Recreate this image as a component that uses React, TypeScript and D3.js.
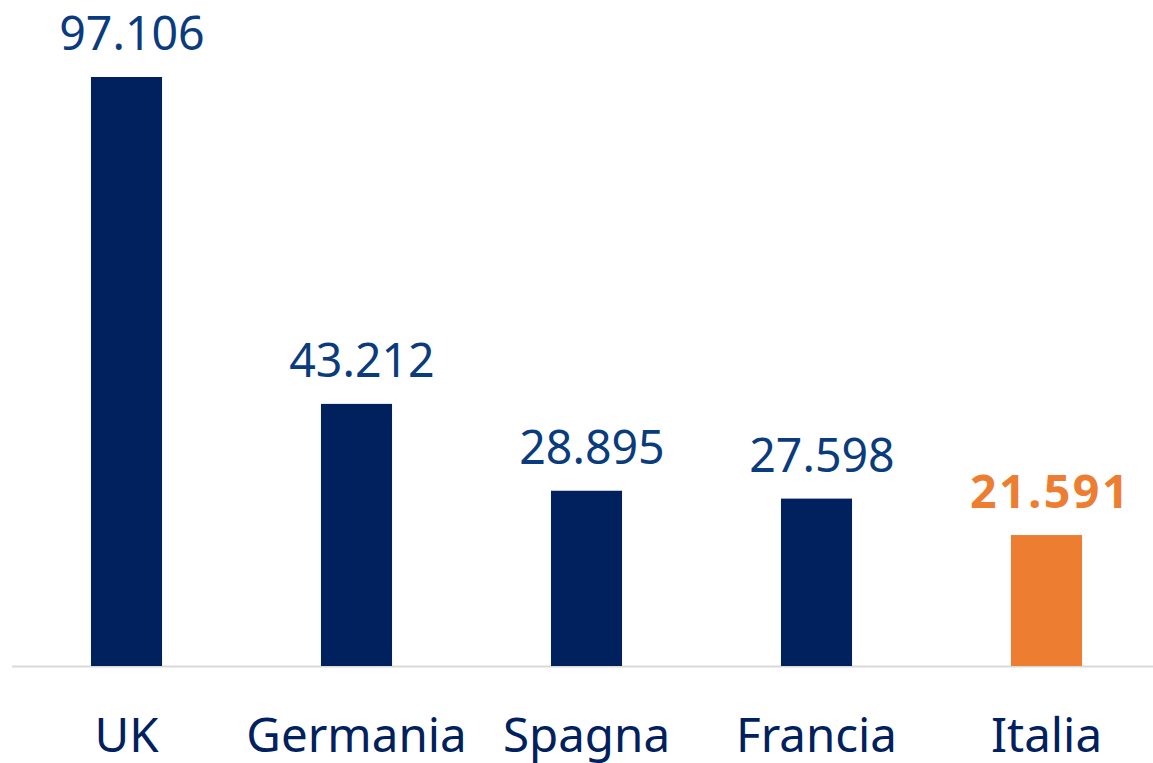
import React from 'react'
import * as d3 from 'd3'

const countries = ['UK', 'Germania', 'Spagna', 'Francia', 'Italia']
const values = [97106, 43212, 28895, 27598, 21591]
const highlight = 'Italia'

const width = 1153
const height = 763
const baseline = 666
const fmt = (v: number) => d3.format(',')(v).replace(/,/g, '.')

const App = () => {
	const xScale = d3
		.scaleBand()
		.domain(countries)
		.range([11.5, 11.5 + 5 * 230])
		.paddingInner(0.691)
		.paddingOuter(0.3455)
	const yScale = d3
		.scaleLinear()
		.domain([0, 97106])
		.range([baseline, 77])

	return (
		<svg width={width} height={height} style={{ position: 'absolute', left: 0, top: 0 }}
			fontFamily="'Noto Sans', sans-serif">
			<line x1={12} x2={1153} y1={baseline + 0.5} y2={baseline + 0.5} stroke='#d9d9d9' strokeWidth={2} />
			{countries.map((c, i) => {
				const x = xScale(c) as number
				const isHi = c === highlight
				const cx = x + xScale.bandwidth() / 2
				return (
					<g key={c}>
						<rect x={x} y={yScale(values[i])} width={xScale.bandwidth()}
							height={baseline - yScale(values[i])} fill={isHi ? '#ED7D31' : '#00205E'} />
						<text x={cx + (isHi ? 4 : 5.5)} y={yScale(values[i]) - 27} textAnchor='middle'
							fontSize={46.5} fontWeight={isHi ? 700 : 400} letterSpacing={isHi ? 2.5 : 0}
							fill={isHi ? '#ED7D31' : '#0A3C7D'}>
							{fmt(values[i])}
						</text>
						<text x={cx} y={752} textAnchor='middle' fontSize={47.5} fill='#00205E'>{c}</text>
					</g>
				)
			})}
		</svg>
	)
}

export default App
